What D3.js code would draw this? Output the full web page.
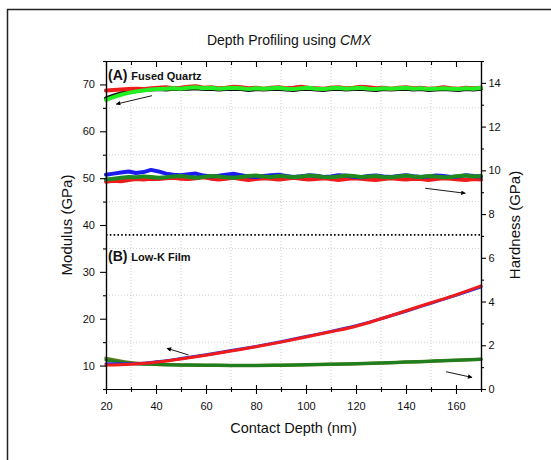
<!DOCTYPE html>
<html>
<head>
<meta charset="utf-8">
<script src="https://cdn.jsdelivr.net/npm/d3@7"></script>
<style>
  body { margin: 0; background: #fff; }
  svg { display: block; font-family: "Liberation Sans", Arial, sans-serif; }
</style>
</head>
<body>
<div id="chart"></div>
<script>
// profundidad de contacto (nm) para las curvas ruidosas de cuarzo
const depthFQ = [20, 23, 26, 29, 32, 35, 38, 41, 44, 47, 50, 53, 56, 59, 62, 65, 68, 71, 74, 77,
  80, 83, 86, 89, 92, 95, 98, 101, 104, 107, 110, 113, 116, 119, 122, 125, 128, 131, 134, 137,
  140, 143, 146, 149, 152, 155, 158, 161, 164, 167, 170];

// (A) Fused Quartz - modulo (eje izquierdo)
const fqModRed = [68.7, 68.8, 68.9, 69.0, 69.1, 69.0, 69.2, 69.3, 69.4, 69.2, 69.3, 69.5, 69.6, 69.3, 69.4, 69.2, 69.3, 69.5, 69.4, 69.2,
  69.3, 69.1, 69.3, 69.4, 69.2, 69.3, 69.5, 69.3, 69.2, 69.1, 69.3, 69.4, 69.2, 69.3, 69.5, 69.4, 69.2, 69.3, 69.1, 69.3,
  69.4, 69.2, 69.3, 69.1, 69.2, 69.4, 69.2, 69.1, 69.3, 69.2, 69.3];
const fqModBlack = [67.0, 67.6, 68.1, 68.4, 68.6, 68.8, 68.9, 69.0, 68.9, 69.1, 69.0, 69.1, 69.2, 69.0, 69.1, 68.9, 69.0, 69.1, 69.0, 68.8,
  69.0, 68.9, 69.0, 69.1, 68.9, 68.8, 69.0, 69.1, 68.9, 68.8, 69.0, 69.1, 68.9, 69.0, 69.1, 68.9, 68.8, 69.0, 68.9, 69.0,
  69.1, 68.9, 69.0, 68.8, 68.9, 69.0, 68.9, 68.8, 69.0, 68.9, 69.1];
const fqModLime = [66.7, 67.3, 67.8, 68.2, 68.5, 68.7, 68.9, 69.0, 69.1, 69.2, 69.1, 69.3, 69.4, 69.2, 69.3, 69.1, 69.2, 69.3, 69.2, 69.0,
  69.2, 69.1, 69.2, 69.3, 69.1, 69.0, 69.2, 69.3, 69.1, 69.0, 69.2, 69.3, 69.1, 69.2, 69.3, 69.1, 69.0, 69.2, 69.1, 69.2,
  69.3, 69.1, 69.2, 69.0, 69.1, 69.2, 69.1, 69.0, 69.2, 69.1, 69.3];

// (A) Fused Quartz - dureza (eje derecho)
const fqHardRed = [9.48, 9.52, 9.50, 9.56, 9.60, 9.58, 9.62, 9.60, 9.64, 9.66, 9.62, 9.60, 9.64, 9.68, 9.62, 9.58, 9.62, 9.66, 9.60, 9.56,
  9.60, 9.64, 9.62, 9.58, 9.62, 9.66, 9.62, 9.58, 9.60, 9.64, 9.60, 9.56, 9.60, 9.64, 9.62, 9.58, 9.56, 9.60, 9.64, 9.60,
  9.58, 9.62, 9.60, 9.56, 9.60, 9.64, 9.62, 9.58, 9.56, 9.60, 9.58];
const fqHardBlue = [9.80, 9.85, 9.90, 9.95, 9.88, 9.92, 10.02, 9.95, 9.85, 9.80, 9.78, 9.82, 9.85, 9.76, 9.72, 9.75, 9.80, 9.84, 9.78, 9.72,
  9.70, 9.74, 9.78, 9.80, 9.74, 9.70, 9.73, 9.77, 9.75, 9.70, 9.72, 9.78, 9.75, 9.70, 9.68, 9.74, 9.76, 9.72, 9.70, 9.74,
  9.78, 9.73, 9.70, 9.72, 9.76, 9.74, 9.70, 9.72, 9.78, 9.74, 9.72];
const fqHardGreen = [9.58, 9.62, 9.66, 9.70, 9.68, 9.72, 9.70, 9.66, 9.68, 9.72, 9.74, 9.70, 9.66, 9.70, 9.74, 9.72, 9.68, 9.66, 9.70, 9.74,
  9.76, 9.72, 9.70, 9.74, 9.72, 9.68, 9.72, 9.76, 9.74, 9.70, 9.68, 9.72, 9.76, 9.74, 9.70, 9.72, 9.74, 9.70, 9.68, 9.72,
  9.76, 9.72, 9.70, 9.74, 9.72, 9.68, 9.70, 9.74, 9.76, 9.72, 9.74];

// (B) Low-K Film
const depthLK = [20, 30, 40, 50, 60, 70, 80, 90, 100, 110, 120, 130, 140, 150, 160, 170];
const lkModRed = [10.1, 10.3, 10.7, 11.4, 12.2, 13.1, 14.0, 15.0, 16.1, 17.2, 18.4, 20.0, 21.7, 23.4, 25.1, 27.0];
const lkModBlue = [10.4, 10.4, 10.8, 11.5, 12.3, 13.2, 14.1, 15.1, 16.2, 17.3, 18.5, 20.0, 21.6, 23.3, 25.0, 26.8];
const lkHardGreen = [1.32, 1.17, 1.12, 1.10, 1.09, 1.08, 1.08, 1.09, 1.11, 1.13, 1.16, 1.19, 1.23, 1.27, 1.31, 1.36];
const lkHardOlive = [1.40, 1.20, 1.13, 1.10, 1.09, 1.08, 1.08, 1.09, 1.11, 1.13, 1.16, 1.19, 1.23, 1.27, 1.31, 1.36];

// ticks
const xMajor = [20, 40, 60, 80, 100, 120, 140, 160];
const xMinor = [30, 50, 70, 90, 110, 130, 150, 170];
const yLMajor = [10, 20, 30, 40, 50, 60, 70];
const yLMinor = [5, 15, 25, 35, 45, 55, 65, 75];
const yRMajor = [0, 2, 4, 6, 8, 10, 12, 14];
const yRMinor = [1, 3, 5, 7, 9, 11, 13, 15];

const width = 551, height = 460;
const margin = { top: 61, right: 70, bottom: 71, left: 106 };
const iw = 481 - margin.left, ih = 389 - margin.top;

const svg = d3.select("#chart").append("svg")
  .attr("width", width).attr("height", height);

// marco exterior
svg.append("rect")
  .attr("x", 7.5).attr("y", 9.5)
  .attr("width", 800).attr("height", 800)
  .attr("fill", "none").attr("stroke", "#222").attr("stroke-width", 1.5);

const x = d3.scaleLinear().domain([20, 170]).range([0, iw]);
const yL = d3.scaleLinear().domain([5, 75]).range([ih, 0]);
const yR = d3.scaleLinear().domain([0, 15]).range([ih, 0]);

const g = svg.append("g").attr("transform", `translate(${margin.left},${margin.top})`);

// rejilla punteada
g.append("g").selectAll("line").data(xMinor.slice(0, -1)).join("line")
  .attr("x1", d => x(d)).attr("x2", d => x(d)).attr("y1", 0).attr("y2", ih)
  .attr("stroke", "#cfcfcf").attr("stroke-dasharray", "1,2");
g.append("g").selectAll("line").data(yLMinor.slice(1, -1)).join("line")
  .attr("y1", d => yL(d)).attr("y2", d => yL(d)).attr("x1", 0).attr("x2", iw)
  .attr("stroke", "#cfcfcf").attr("stroke-dasharray", "1,2");

// separador punteado
g.append("line")
  .attr("x1", 0).attr("x2", iw).attr("y1", yL(37.9)).attr("y2", yL(37.9))
  .attr("stroke", "#000").attr("stroke-width", 1.6).attr("stroke-dasharray", "1.6,2.2");

const lineL = d3.line().x(d => x(d[0])).y(d => yL(d[1]));
const lineR = d3.line().x(d => x(d[0])).y(d => yR(d[1]));
const smoothL = d3.line().curve(d3.curveMonotoneX).x(d => x(d[0])).y(d => yL(d[1]));
const smoothR = d3.line().curve(d3.curveMonotoneX).x(d => x(d[0])).y(d => yR(d[1]));

function draw(gen, xs, ys, color, w) {
  g.append("path")
    .datum(xs.map((v, i) => [v, ys[i]]))
    .attr("d", gen)
    .attr("fill", "none")
    .attr("stroke", color)
    .attr("stroke-width", w)
    .attr("stroke-linejoin", "round")
    .attr("stroke-linecap", "round");
}

// Low-K
draw(smoothR, depthLK, lkHardOlive, "#5a7a1a", 3.5);
draw(smoothR, depthLK, lkHardGreen, "#1f7f1f", 3);
draw(smoothL, depthLK, lkModBlue, "#3030e0", 3);
draw(smoothL, depthLK, lkModRed, "#f01c1c", 3);

// Fused Quartz
draw(lineL, depthFQ, fqModBlack, "#111", 4);
draw(lineL, depthFQ, fqModRed, "#f01c1c", 4);
draw(lineL, depthFQ, fqModLime, "#22f022", 4);
draw(lineR, depthFQ, fqHardRed, "#f01c1c", 4);
draw(lineR, depthFQ, fqHardBlue, "#1c1cf0", 4);
draw(lineR, depthFQ, fqHardGreen, "#1f8a1f", 4);

// flechas
svg.append("defs").append("marker")
  .attr("id", "arrow").attr("viewBox", "0 0 10 10")
  .attr("refX", 9).attr("refY", 5)
  .attr("markerWidth", 7).attr("markerHeight", 5)
  .attr("orient", "auto-start-reverse")
  .append("path").attr("d", "M0,0L10,5L0,10Z").attr("fill", "#000");

const arrows = [
  { from: [38.4, 67.6], to: [24.1, 65.8], axis: "L" },
  { from: [147.7, 9.18], to: [163.7, 8.95], axis: "R" },
  { from: [53.0, 12.26], to: [44.4, 13.69], axis: "L" },
  { from: [156.0, 0.79], to: [166.4, 0.53], axis: "R" }
];
arrows.forEach(a => {
  const ys = a.axis === "L" ? yL : yR;
  g.append("line")
    .attr("x1", x(a.from[0])).attr("y1", ys(a.from[1]))
    .attr("x2", x(a.to[0])).attr("y2", ys(a.to[1]))
    .attr("stroke", "#000").attr("stroke-width", 0.9)
    .attr("marker-end", "url(#arrow)");
});

// ejes
const tickFont = g => g.selectAll("text").attr("font-size", 11).attr("fill", "#111")
  .attr("font-family", "'Liberation Sans', Arial, sans-serif");
const axisStyle = sel => {
  sel.select(".domain").attr("stroke", "#000").attr("stroke-width", 1.2);
  sel.selectAll(".tick line").attr("stroke", "#000").attr("stroke-width", 1.1);
};

const bottom = g.append("g").attr("transform", `translate(0,${ih})`)
  .call(d3.axisBottom(x).tickValues(xMajor).tickSize(5).tickPadding(8).tickSizeOuter(0))
  .call(tickFont).call(axisStyle);
bottom.selectAll(".tick line").attr("y1", -4);
const bottomMin = g.append("g").attr("transform", `translate(0,${ih})`)
  .call(d3.axisBottom(x).tickValues(xMinor).tickSize(3).tickFormat("").tickSizeOuter(0))
  .call(axisStyle);
bottomMin.selectAll(".tick line").attr("y1", -2);

g.append("g")
  .call(d3.axisTop(x).tickValues(xMajor).tickSize(-6).tickFormat("").tickSizeOuter(0))
  .call(axisStyle);
g.append("g")
  .call(d3.axisTop(x).tickValues(xMinor).tickSize(-4).tickFormat("").tickSizeOuter(0))
  .call(axisStyle);

g.append("g")
  .call(d3.axisLeft(yL).tickValues(yLMajor).tickSize(6).tickPadding(5).tickSizeOuter(0))
  .call(tickFont).call(axisStyle);
g.append("g")
  .call(d3.axisLeft(yL).tickValues(yLMinor).tickSize(3).tickFormat("").tickSizeOuter(0))
  .call(axisStyle);

g.append("g").attr("transform", `translate(${iw},0)`)
  .call(d3.axisRight(yR).tickValues(yRMajor).tickSize(5).tickPadding(2.5).tickSizeOuter(0))
  .call(tickFont).call(axisStyle);
g.append("g").attr("transform", `translate(${iw},0)`)
  .call(d3.axisRight(yR).tickValues(yRMinor).tickSize(3).tickFormat("").tickSizeOuter(0))
  .call(axisStyle);

// titulos
const title = svg.append("text")
  .attr("x", 289).attr("y", 45)
  .attr("text-anchor", "middle").attr("font-size", 14).attr("fill", "#111");
title.append("tspan").text("Depth Profiling using ");
title.append("tspan").attr("font-style", "italic").text("CMX");

svg.append("text")
  .attr("x", margin.left + iw / 2).attr("y", 433)
  .attr("text-anchor", "middle").attr("font-size", 14.5).attr("fill", "#111")
  .text("Contact Depth (nm)");

svg.append("text")
  .attr("transform", `translate(72,${margin.top + ih / 2}) rotate(-90)`)
  .attr("text-anchor", "middle").attr("font-size", 15).attr("fill", "#111")
  .text("Modulus (GPa)");

svg.append("text")
  .attr("transform", `translate(520,${margin.top + ih / 2}) rotate(-90)`)
  .attr("text-anchor", "middle").attr("font-size", 15).attr("fill", "#111")
  .text("Hardness (GPa)");

// etiquetas de panel
const labA = svg.append("text").attr("x", 108).attr("y", 80).attr("font-weight", "bold").attr("fill", "#111");
labA.append("tspan").attr("font-size", 14).text("(A) ");
labA.append("tspan").attr("font-size", 11).text("Fused Quartz");
const labB = svg.append("text").attr("x", 108).attr("y", 261).attr("font-weight", "bold").attr("fill", "#111");
labB.append("tspan").attr("font-size", 14).text("(B) ");
labB.append("tspan").attr("font-size", 11).text("Low-K Film");
</script>
</body>
</html>
